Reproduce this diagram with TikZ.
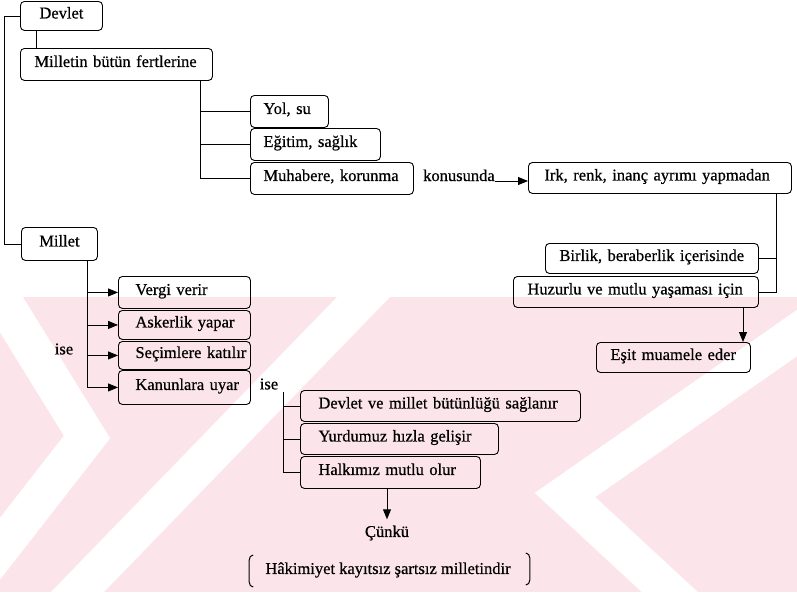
\documentclass[tikz,border=0pt]{standalone}
\usepackage{fontspec}
\setmainfont{Liberation Serif}[FakeBold=0.6]
\usetikzlibrary{arrows.meta,calc}
\definecolor{wm}{RGB}{252,229,234}
\begin{document}
\begin{tikzpicture}[x=1pt,y=-1pt,
  bx/.style={draw, line width=0.9pt, rounded corners=4pt, anchor=north west,
    inner ysep=0pt, align=left, font=\fontsize{16.5}{19}\selectfont,
    text height=11pt, text depth=6pt},
  cbx/.style={bx, align=center},
  lbl/.style={inner sep=0pt, font=\fontsize{16.5}{19}\selectfont},
  ln/.style={line width=0.9pt},
  arr/.style={line width=0.9pt, -{Triangle[length=10pt,width=8pt]}},
  brk/.style={line width=1pt}]
\useasboundingbox (0,0) rectangle (797,592);
% watermark
\begin{scope}
\clip (0,297) rectangle (797,592);
\fill[wm] (0,297) rectangle (797,592);
\draw[white, line width=38pt] (-10,280) -- (87,437) -- (-40,600);
\draw[white, line width=38pt] (60,610) -- (380,280);
\draw[white, line width=38pt] (830,310) -- (565,495) -- (700,620);
\end{scope}
% boxes
\node[cbx, inner xsep=8pt, text width=66pt, minimum height=29pt] (devlet) at (20,1) {\mbox{Devlet}};
\node[bx, inner xsep=14pt, text width=164pt, minimum height=32pt] (milletin) at (20,48) {\mbox{Milletin bütün fertlerine}};
\node[bx, inner xsep=13pt, text width=52pt, minimum height=32pt] (yol) at (250,95) {\mbox{Yol, su}};
\node[bx, inner xsep=13pt, text width=104pt, minimum height=32pt] (egitim) at (250,128) {\mbox{Eğitim, sağlık}};
\node[bx, inner xsep=13pt, text width=137pt, minimum height=32pt] (muhabere) at (250,162) {\mbox{Muhabere, korunma}};
\node[bx, inner xsep=16pt, text width=231pt, minimum height=31pt] (irk) at (528,162) {\mbox{Irk, renk, inanç ayrımı yapmadan}};
\node[bx, inner xsep=14pt, text width=185pt, minimum height=30pt] (birlik) at (545,243) {\mbox{Birlik, beraberlik içerisinde}};
\node[bx, inner xsep=14pt, text width=217pt, minimum height=31pt] (huzurlu) at (513,276) {\mbox{Huzurlu ve mutlu yaşaması için}};
\node[bx, inner xsep=14pt, text width=126pt, minimum height=30pt] (esit) at (596,342) {\mbox{Eşit muamele eder}};
\node[cbx, inner xsep=8pt, text width=60pt, minimum height=33pt] (millet) at (21,227) {\mbox{Millet}};
\node[bx, inner xsep=17pt, text width=98pt, minimum height=32pt] (vergi) at (118,276) {\mbox{Vergi verir}};
\node[bx, inner xsep=17pt, text width=98pt, minimum height=29pt] (askerlik) at (118,310) {\mbox{Askerlik yapar}};
\node[bx, inner xsep=17pt, text width=98pt, minimum height=28pt] (secim) at (118,341) {\mbox{Seçimlere katılır}};
\node[bx, inner xsep=17pt, text width=98pt, minimum height=34pt] (kanun) at (118,370) {\mbox{Kanunlara uyar}};
\node[bx, inner xsep=18pt, text width=244pt, minimum height=31pt] (devletve) at (300,390) {\mbox{Devlet ve millet bütünlüğü sağlanır}};
\node[bx, inner xsep=18pt, text width=162pt, minimum height=31pt] (yurdumuz) at (300,423) {\mbox{Yurdumuz hızla gelişir}};
\node[bx, inner xsep=18pt, text width=144pt, minimum height=32pt] (halk) at (300,456) {\mbox{Halkımız mutlu olur}};
% labels
\node[lbl, anchor=base west] (konus) at (423,181) {konusunda};
\node[lbl] (ise1) at (64,349) {ise};
\node[lbl] (ise2) at (269,384) {ise};
\node[lbl] (cunku) at (387,533) {Çünkü};
\node[lbl] (hakim) at (388,570) {Hâkimiyet kayıtsız şartsız milletindir};
% spine coordinates
\coordinate (lft) at (4,0);
\coordinate (s1) at (200,0);
\coordinate (s2) at (776,0);
\coordinate (s3) at (743,0);
\coordinate (s4) at (87,0);
\coordinate (s5) at (283,392);
\coordinate (s6) at (387,0);
% connectors
\draw[ln] (devlet.west) -| (lft |- millet.west) -- (millet.west);
\draw[ln] ([xshift=16pt]devlet.south west) -- ([xshift=16pt]devlet.south west |- milletin.north);
\draw[ln] (s1 |- milletin.south) -- (s1 |- muhabere.west) -- (muhabere.west);
\draw[ln] (s1 |- yol.west) -- (yol.west);
\draw[ln] (s1 |- egitim.west) -- (egitim.west);
\draw[arr] (konus.base east) -- (konus.base east -| irk.west);
\draw[ln] (s2 |- irk.south) -- (s2 |- huzurlu.east) -- (huzurlu.east);
\draw[ln] (s2 |- birlik.east) -- (birlik.east);
\draw[arr] (s3 |- huzurlu.south) -- (s3 |- esit.north);
\draw[ln] (s4 |- millet.south) -- (s4 |- kanun.west);
\draw[arr] (s4 |- vergi.west) -- (vergi.west);
\draw[arr] (s4 |- askerlik.west) -- (askerlik.west);
\draw[arr] (s4 |- secim.west) -- (secim.west);
\draw[arr] (s4 |- kanun.west) -- (kanun.west);
\draw[ln] (s5) -- (s5 |- halk.west) -- (halk.west);
\draw[ln] (s5 |- devletve.west) -- (devletve.west);
\draw[ln] (s5 |- yurdumuz.west) -- (yurdumuz.west);
\draw[arr, shorten >=6pt] (s6 |- halk.south) -- (s6 |- cunku.north);
% brackets
\draw[brk] ([xshift=-12pt,yshift=15pt]hakim.west) to[out=180,in=90] ([xshift=-16pt,yshift=10pt]hakim.west) -- ([xshift=-16pt,yshift=-12pt]hakim.west) to[out=-90,in=180] ([xshift=-12pt,yshift=-17pt]hakim.west);
\draw[brk] ([xshift=15pt,yshift=17pt]hakim.east) to[out=0,in=90] ([xshift=19pt,yshift=12pt]hakim.east) -- ([xshift=19pt,yshift=-10pt]hakim.east) to[out=-90,in=0] ([xshift=15pt,yshift=-15pt]hakim.east);
\end{tikzpicture}
\end{document}
